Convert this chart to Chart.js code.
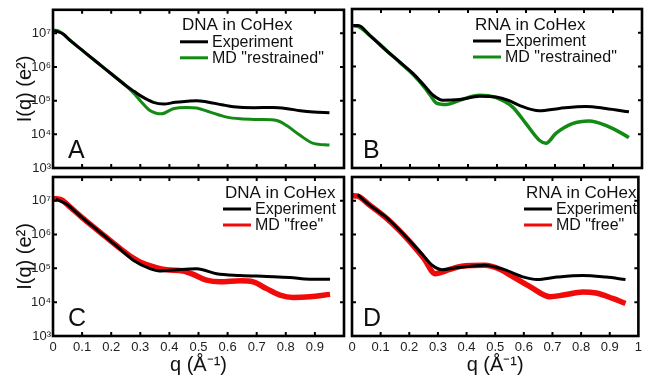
<!DOCTYPE html>
<html><head><meta charset="utf-8">
<script src="https://cdn.jsdelivr.net/npm/chart.js@4.4.0/dist/chart.umd.min.js"></script>
<style>
html,body{margin:0;padding:0;background:#fff;}
#wrap{position:relative;width:646px;height:377px;overflow:hidden;background:#fff;}
canvas{position:absolute;left:0;top:0;}
</style></head><body>
<div id="wrap">
<canvas id="cA" width="646" height="377"></canvas>
<canvas id="cB" width="646" height="377"></canvas>
<canvas id="cC" width="646" height="377"></canvas>
<canvas id="cD" width="646" height="377"></canvas>
</div>
<script>
// ---- tick labels ----
const xTickValues = [0, 0.1, 0.2, 0.3, 0.4, 0.5, 0.6, 0.7, 0.8, 0.9, 1];
const xTickLabels = ['0', '0.1', '0.2', '0.3', '0.4', '0.5', '0.6', '0.7', '0.8', '0.9', '1'];
const yTickValues = [1e3, 1e4, 1e5, 1e6, 1e7];
const yTickLabels = ['10³', '10⁴', '10⁵', '10⁶', '10⁷'];
const xTitle = 'q (Å⁻¹)';
const yTitle = 'I(q) (e²)';
const expName = 'Experiment';
const mdRestrained = 'MD "restrained"';
const mdFree = 'MD "free"';

// ---- Panel A: DNA in CoHex, restrained ----
const qA_exp = [0.005, 0.035, 0.06, 0.10, 0.15, 0.20, 0.25, 0.28, 0.30, 0.345, 0.38, 0.42, 0.46, 0.494, 0.53, 0.58, 0.62, 0.69, 0.756, 0.80, 0.85, 0.895, 0.95];
const IA_exp = [1.20e7, 9.55e6, 6.03e6, 3.16e6, 1.41e6, 6.31e5, 2.82e5, 1.86e5, 1.41e5, 8.91e4, 7.94e4, 8.91e4, 9.55e4, 1.00e5, 9.12e4, 7.59e4, 6.61e4, 6.17e4, 6.31e4, 5.89e4, 5.01e4, 4.57e4, 4.37e4];
const qA_md = [0, 0.02, 0.06, 0.10, 0.15, 0.20, 0.25, 0.28, 0.30, 0.333, 0.373, 0.413, 0.459, 0.494, 0.54, 0.597, 0.643, 0.71, 0.769, 0.803, 0.849, 0.895, 0.95];
const IA_md = [1.26e7, 1.17e7, 6.03e6, 3.16e6, 1.41e6, 6.31e5, 2.82e5, 1.58e5, 1.00e5, 5.13e4, 4.07e4, 5.75e4, 6.31e4, 6.03e4, 4.57e4, 3.24e4, 2.88e4, 2.75e4, 2.57e4, 1.82e4, 9.33e3, 5.37e3, 4.79e3];

// ---- Panel B: RNA in CoHex, restrained ----
const qB_exp = [0.005, 0.022, 0.06, 0.119, 0.165, 0.211, 0.25, 0.28, 0.314, 0.371, 0.44, 0.497, 0.54, 0.577, 0.646, 0.715, 0.806, 0.875, 0.955];
const IB_exp = [1.62e7, 1.62e7, 8.51e6, 2.95e6, 1.35e6, 6.17e5, 2.69e5, 1.41e5, 1.00e5, 1.05e5, 1.32e5, 1.26e5, 1.00e5, 7.08e4, 4.90e4, 5.75e4, 6.61e4, 5.75e4, 4.57e4];
const qB_md = [0, 0.02, 0.06, 0.119, 0.165, 0.211, 0.25, 0.27, 0.291, 0.325, 0.371, 0.44, 0.497, 0.554, 0.60, 0.646, 0.669, 0.703, 0.76, 0.818, 0.875, 0.921, 0.955];
const IB_md = [1.62e7, 1.55e7, 8.51e6, 2.95e6, 1.32e6, 5.75e5, 2.40e5, 1.41e5, 8.32e4, 7.59e4, 1.00e5, 1.41e5, 1.20e5, 6.31e4, 2.04e4, 6.61e3, 5.37e3, 1.05e4, 2.04e4, 2.45e4, 1.82e4, 1.17e4, 7.94e3];

// ---- Panel C: DNA in CoHex, free ----
const qC_exp = [0.01, 0.046, 0.10, 0.16, 0.22, 0.276, 0.333, 0.367, 0.425, 0.494, 0.562, 0.643, 0.734, 0.814, 0.883, 0.952];
const IC_exp = [1.12e7, 7.94e6, 3.16e6, 1.20e6, 4.47e5, 1.74e5, 9.77e4, 8.32e4, 9.12e4, 9.77e4, 6.92e4, 6.17e4, 5.75e4, 5.37e4, 4.79e4, 4.79e4];
const qC_md = [0, 0.03, 0.06, 0.10, 0.16, 0.22, 0.276, 0.299, 0.355, 0.39, 0.447, 0.482, 0.528, 0.574, 0.643, 0.688, 0.734, 0.78, 0.826, 0.883, 0.952];
const IC_md = [1.17e7, 1.05e7, 6.31e6, 3.16e6, 1.20e6, 4.57e5, 2.00e5, 1.55e5, 1.05e5, 9.12e4, 8.32e4, 6.61e4, 4.47e4, 3.98e4, 4.27e4, 3.98e4, 2.51e4, 1.62e4, 1.38e4, 1.45e4, 1.70e4];

// ---- Panel D: RNA in CoHex, free ----
const qD_exp = [0.02, 0.06, 0.119, 0.165, 0.211, 0.25, 0.28, 0.314, 0.371, 0.463, 0.532, 0.60, 0.646, 0.715, 0.806, 0.887, 0.955];
const ID_exp = [1.51e7, 7.59e6, 3.24e6, 1.38e6, 5.37e5, 2.34e5, 1.23e5, 9.12e4, 1.05e5, 1.23e5, 9.12e4, 5.50e4, 4.68e4, 5.50e4, 6.17e4, 5.50e4, 4.68e4];
const qD_md = [0, 0.02, 0.06, 0.119, 0.165, 0.211, 0.25, 0.291, 0.325, 0.383, 0.463, 0.52, 0.554, 0.623, 0.692, 0.738, 0.806, 0.852, 0.91, 0.955];
const ID_md = [1.41e7, 1.35e7, 7.59e6, 3.09e6, 1.32e6, 5.01e5, 2.00e5, 6.92e4, 8.32e4, 1.15e5, 1.23e5, 9.12e4, 6.17e4, 2.82e4, 1.45e4, 1.62e4, 2.00e4, 1.86e4, 1.29e4, 9.12e3];

const FAM = '"Liberation Sans", Arial, Helvetica, sans-serif';
const GREEN = '#138a13';
const RED = '#f00a0a';

function pts(q, I) { return q.map((v, i) => ({x: v, y: I[i]})); }

const panels = [
  {id: 'cA', title: 'DNA in CoHex', letter: 'A', qe: qA_exp, Ie: IA_exp, qm: qA_md, Im: IA_md, mdLabel: mdRestrained, mdColor: GREEN, mdWidth: 3,
   pad: {left: 0, top: 9, right: 302, bottom: 209}, showX: false, showY: true, xLabelMax: 1, legendDx: 127, letterDx: 15},
  {id: 'cB', title: 'RNA in CoHex', letter: 'B', qe: qB_exp, Ie: IB_exp, qm: qB_md, Im: IB_md, mdLabel: mdRestrained, mdColor: GREEN, mdWidth: 3.5,
   pad: {left: 352, top: 9, right: 4, bottom: 209}, showX: false, showY: false, xLabelMax: 1, legendDx: 121, letterDx: 11},
  {id: 'cC', title: 'DNA in CoHex', letter: 'C', qe: qC_exp, Ie: IC_exp, qm: qC_md, Im: IC_md, mdLabel: mdFree, mdColor: RED, mdWidth: 5.5,
   pad: {left: 0, top: 177, right: 302, bottom: 0}, showX: true, showY: true, xLabelMax: 0.9, legendDx: 170, letterDx: 15},
  {id: 'cD', title: 'RNA in CoHex', letter: 'D', qe: qD_exp, Ie: ID_exp, qm: qD_md, Im: ID_md, mdLabel: mdFree, mdColor: RED, mdWidth: 5.5,
   pad: {left: 352, top: 177, right: 4, bottom: 0}, showX: true, showY: false, xLabelMax: 1, legendDx: 172, letterDx: 11}
];

const decor = {
  id: 'decor',
  afterDatasetsDraw(chart, args, opts) {
    const p = opts.panel;
    if (!p) return;
    const {ctx, chartArea: a, scales: {x, y}} = chart;
    ctx.save();
    ctx.strokeStyle = '#000';
    ctx.lineWidth = 2;
    ctx.beginPath();
    xTickValues.forEach(v => {
      if (v <= 0 || v >= 1) return;
      const px = x.getPixelForValue(v);
      ctx.moveTo(px, a.top); ctx.lineTo(px, a.top + 4);
      ctx.moveTo(px, a.bottom); ctx.lineTo(px, a.bottom - 4);
    });
    yTickValues.forEach(v => {
      const py = y.getPixelForValue(v);
      if (py >= a.bottom - 2) return;
      ctx.moveTo(a.left, py); ctx.lineTo(a.left + 4, py);
      ctx.moveTo(a.right, py); ctx.lineTo(a.right - 4, py);
    });
    ctx.stroke();
    ctx.lineWidth = 2.6;
    ctx.strokeRect(a.left, a.top, a.right - a.left, a.bottom - a.top);

    // legend
    const L = a.left + p.legendDx;
    ctx.fillStyle = '#111';
    ctx.textAlign = 'left';
    ctx.textBaseline = 'middle';
    ctx.font = '17px ' + FAM;
    ctx.fillText(p.title, L + 2, a.top + 16);
    ctx.font = '16px ' + FAM;
    chart.data.datasets.forEach((ds, i) => {
      const yy = a.top + 32 + 16 * i;
      ctx.strokeStyle = ds.borderColor;
      ctx.lineWidth = 3;
      ctx.beginPath();
      ctx.moveTo(L, yy); ctx.lineTo(L + 28, yy);
      ctx.stroke();
      ctx.fillText(ds.label, L + 32, yy + 1);
    });
    // panel letter
    ctx.font = '25px ' + FAM;
    ctx.textBaseline = 'alphabetic';
    ctx.fillStyle = '#111';
    ctx.fillText(p.letter, a.left + p.letterDx, a.bottom - 10);
    ctx.restore();
  }
};

panels.forEach(p => {
  new Chart(document.getElementById(p.id), {
    type: 'scatter',
    data: {
      datasets: [
        {label: expName, data: pts(p.qe, p.Ie), showLine: true, borderColor: '#000', backgroundColor: '#000',
         borderWidth: 3, pointRadius: 0, cubicInterpolationMode: 'monotone'},
        {label: p.mdLabel, data: pts(p.qm, p.Im), showLine: true, borderColor: p.mdColor, backgroundColor: p.mdColor,
         borderWidth: p.mdWidth, pointRadius: 0, cubicInterpolationMode: 'monotone'}
      ]
    },
    options: {
      responsive: false,
      animation: false,
      devicePixelRatio: 1,
      layout: {padding: p.pad},
      plugins: {legend: {display: false}, tooltip: {enabled: false}, decor: {panel: p}},
      scales: {
        x: {
          type: 'linear', min: 0, max: 1, display: p.showX,
          grid: {display: false, drawTicks: false}, border: {display: false},
          afterBuildTicks: s => { s.ticks = xTickValues.filter(v => v <= p.xLabelMax + 1e-9).map(v => ({value: v})); },
          afterFit: s => { s.height = p.showX ? 41 : 0; },
          ticks: {padding: 4, autoSkip: false, maxRotation: 0, color: '#222', font: {size: 13, family: FAM},
                  callback: v => xTickLabels[xTickValues.indexOf(v)]},
          title: {display: true, text: xTitle, color: '#111', font: {size: 20, family: FAM}, padding: {top: 0, bottom: 0}}
        },
        y: {
          type: 'logarithmic', min: 1000, max: 5e7, display: p.showY,
          grid: {display: false, drawTicks: false}, border: {display: false},
          afterBuildTicks: s => { s.ticks = yTickValues.map(v => ({value: v})); },
          afterFit: s => { s.width = p.showY ? 53 : 0; },
          ticks: {padding: 2, autoSkip: false, color: '#222', font: {size: 13, family: FAM},
                  callback: v => yTickLabels[yTickValues.indexOf(v)]},
          title: {display: true, text: yTitle, color: '#111', font: {size: 20, family: FAM}, padding: {top: 13, bottom: 0}}
        }
      }
    },
    plugins: [decor]
  });
});
</script>
</body></html>
